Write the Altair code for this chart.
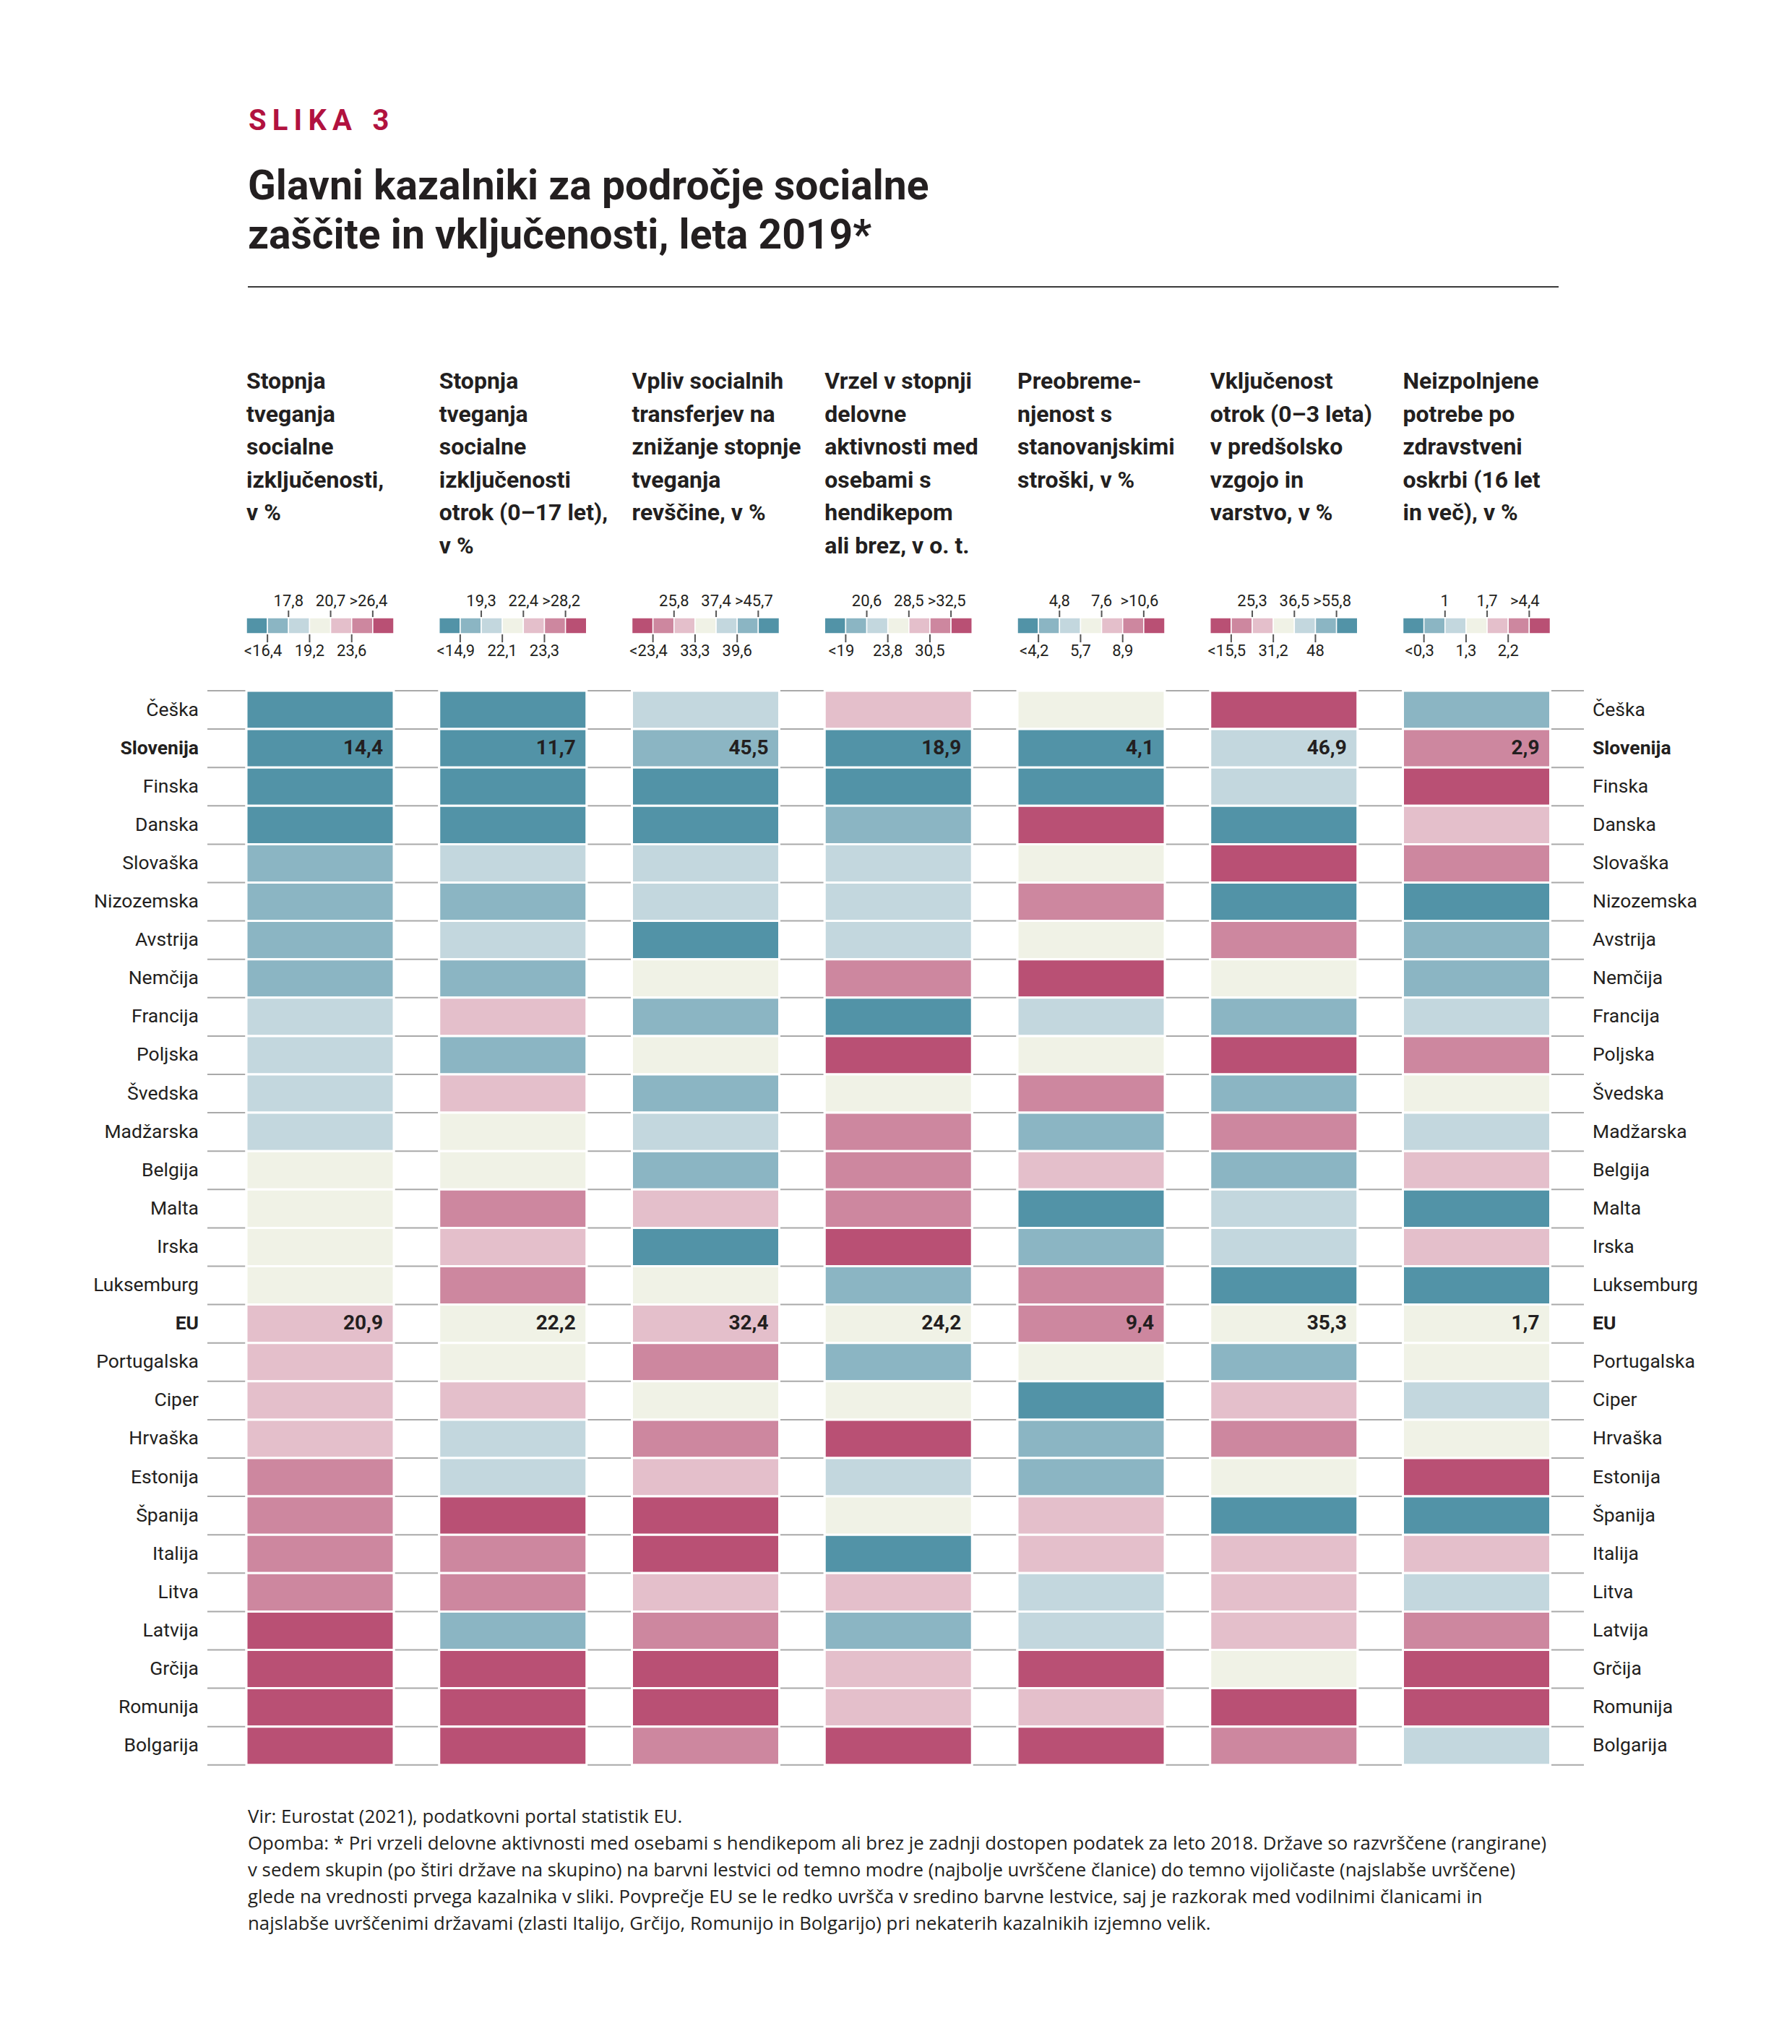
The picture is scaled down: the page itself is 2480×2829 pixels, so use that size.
import altair as alt
import pandas as pd

# ---------------- data ----------------
countries = ["Češka", "Slovenija", "Finska", "Danska", "Slovaška", "Nizozemska", "Avstrija",
             "Nemčija", "Francija", "Poljska", "Švedska", "Madžarska", "Belgija", "Malta",
             "Irska", "Luksemburg", "EU", "Portugalska", "Ciper", "Hrvaška", "Estonija",
             "Španija", "Italija", "Litva", "Latvija", "Grčija", "Romunija", "Bolgarija"]
bold_rows = ["Slovenija", "EU"]

headers = [
    "Stopnja\ntveganja\nsocialne\nizključenosti,\nv %",
    "Stopnja\ntveganja\nsocialne\nizključenosti\notrok (0–17 let),\nv %",
    "Vpliv socialnih\ntransferjev na\nznižanje stopnje\ntveganja\nrevščine, v %",
    "Vrzel v stopnji\ndelovne\naktivnosti med\nosebami s\nhendikepom\nali brez, v o. t.",
    "Preobreme-\nnjenost s\nstanovanjskimi\nstroški, v %",
    "Vključenost\notrok (0–3 leta)\nv predšolsko\nvzgojo in\nvarstvo, v %",
    "Neizpolnjene\npotrebe po\nzdravstveni\noskrbi (16 let\nin več), v %",
]

# colour class per country (1 = dark teal / best ... 7 = dark magenta / worst)
class_c1 = [1, 1, 1, 1, 2, 2, 2, 2, 3, 3, 3, 3, 4, 4, 4, 4, 5, 5, 5, 5, 6, 6, 6, 6, 7, 7, 7, 7]
class_c2 = [1, 1, 1, 1, 3, 2, 3, 2, 5, 2, 5, 4, 4, 6, 5, 6, 4, 4, 5, 3, 3, 7, 6, 6, 2, 7, 7, 7]
class_c3 = [3, 2, 1, 1, 3, 3, 1, 4, 2, 4, 2, 3, 2, 5, 1, 4, 5, 6, 4, 6, 5, 7, 7, 5, 6, 7, 7, 6]
class_c4 = [5, 1, 1, 2, 3, 3, 3, 6, 1, 7, 4, 6, 6, 6, 7, 2, 4, 2, 4, 7, 3, 4, 1, 5, 2, 5, 5, 7]
class_c5 = [4, 1, 1, 7, 4, 6, 4, 7, 3, 4, 6, 2, 5, 1, 2, 6, 6, 4, 1, 2, 2, 5, 5, 3, 3, 7, 5, 7]
class_c6 = [7, 3, 3, 1, 7, 1, 6, 4, 2, 7, 2, 6, 2, 3, 3, 1, 4, 2, 5, 6, 4, 1, 5, 5, 5, 4, 7, 6]
class_c7 = [2, 6, 7, 5, 6, 1, 2, 2, 3, 6, 4, 3, 5, 1, 5, 1, 4, 4, 3, 4, 7, 1, 5, 3, 6, 7, 7, 3]
classes = [class_c1, class_c2, class_c3, class_c4, class_c5, class_c6, class_c7]

slovenia_values = ["14,4", "11,7", "45,5", "18,9", "4,1", "46,9", "2,9"]
eu_values = ["20,9", "22,2", "32,4", "24,2", "9,4", "35,3", "1,7"]

legend_top = [["17,8", "20,7", ">26,4"], ["19,3", "22,4", ">28,2"], ["25,8", "37,4", ">45,7"],
              ["20,6", "28,5", ">32,5"], ["4,8", "7,6", ">10,6"], ["25,3", "36,5", ">55,8"],
              ["1", "1,7", ">4,4"]]
legend_bottom = [["<16,4", "19,2", "23,6"], ["<14,9", "22,1", "23,3"], ["<23,4", "33,3", "39,6"],
                 ["<19", "23,8", "30,5"], ["<4,2", "5,7", "8,9"], ["<15,5", "31,2", "48"],
                 ["<0,3", "1,3", "2,2"]]
legend_reversed = [False, False, True, False, False, True, False]

palette = ["#5293a7", "#8bb5c3", "#c3d7de", "#f0f2e6", "#e4bfcb", "#cd879f", "#b95074"]

fig_label = "S\u2009L\u2009I\u2009K\u2009A\u2002\u20093"
title_text = "Glavni kazalniki za področje socialne\nzaščite in vključenosti, leta 2019*"
note_text = ("Vir: Eurostat (2021), podatkovni portal statistik EU.\n"
             "Opomba: * Pri vrzeli delovne aktivnosti med osebami s hendikepom ali brez je zadnji dostopen podatek za leto 2018. Države so razvrščene (rangirane)\n"
             "v sedem skupin (po štiri države na skupino) na barvni lestvici od temno modre (najbolje uvrščene članice) do temno vijoličaste (najslabše uvrščene)\n"
             "glede na vrednosti prvega kazalnika v sliki. Povprečje EU se le redko uvršča v sredino barvne lestvice, saj je razkorak med vodilnimi članicami in\n"
             "najslabše uvrščenimi državami (zlasti Italijo, Grčijo, Romunijo in Bolgarijo) pri nekaterih kazalnikih izjemno velik.")

# ---------------- layout (scale units: 1 x-unit = one column, 1 y-unit = one row) ----------------
W, H = 2464, 2813
COL_PX, ROW_PX = 266.75, 53.1
X0_PX, Y0_PX = 341 - 8, 956 - 8
XA = -X0_PX / COL_PX
XB = XA + W / COL_PX
YA = -Y0_PX / ROW_PX
YB = YA + H / ROW_PX
BAR = 204 / COL_PX
SW = BAR / 7


def r(px):  # page pixel y -> row units
    return (px - 956) / ROW_PX


def u(px):  # page pixel x -> column units
    return (px - 341) / COL_PX


FONT = "Roboto, sans-serif"
INK = "#231f20"

xs = alt.Scale(domain=[XA, XB], nice=False, zero=False)
ys = alt.Scale(domain=[YA, YB], nice=False, zero=False, reverse=True)


def X(f):
    return alt.X(f"{f}:Q", scale=xs, axis=None)


def Y(f):
    return alt.Y(f"{f}:Q", scale=ys, axis=None)


cscale = alt.Scale(domain=[1, 2, 3, 4, 5, 6, 7], range=palette)

# cells
cells = []
for ci, cl in enumerate(classes):
    for ri, c in enumerate(cl):
        cells.append({"x": ci, "x2": ci + BAR, "y": ri, "y2": ri + 1, "cls": c,
                      "country": countries[ri]})
cells = pd.DataFrame(cells)

# row separator lines
lines = pd.DataFrame({"y": list(range(len(countries) + 1)), "x": u(287), "x2": u(2192)})

# legend swatches and ticks
sw, ticks, tlabels = [], [], []
for ci in range(7):
    for k in range(7):
        cls = 7 - k if legend_reversed[ci] else k + 1
        sw.append({"x": ci + k * SW, "x2": ci + (k + 1) * SW, "y": r(855), "y2": r(877), "cls": cls})
    for k in range(1, 7):
        pos = ci + k * SW
        if k % 2 == 0:
            ticks.append({"x": pos, "y": r(845), "y2": r(854)})
            tlabels.append({"x": pos, "y": r(839), "t": legend_top[ci][k // 2 - 1]})
        else:
            ticks.append({"x": pos, "y": r(878), "y2": r(889)})
            tlabels.append({"x": pos, "y": r(908), "t": legend_bottom[ci][(k - 1) // 2]})
sw, ticks, tlabels = pd.DataFrame(sw), pd.DataFrame(ticks), pd.DataFrame(tlabels)
tl_plain = tlabels[~tlabels["t"].str.match(r"^[<>]")]
tl_sign = tlabels[tlabels["t"].str.match(r"^[<>]")]

# row labels
lab = pd.DataFrame({"country": countries, "y": [i + 0.5 for i in range(len(countries))]})
lab["xl"] = u(275)
lab["xr"] = u(2204)
lab_norm = lab[~lab["country"].isin(bold_rows)]
lab_bold = lab[lab["country"].isin(bold_rows)]

# values
vals = []
for ci in range(7):
    vals.append({"x": ci + BAR, "y": countries.index("Slovenija") + 0.5, "t": slovenia_values[ci]})
    vals.append({"x": ci + BAR, "y": countries.index("EU") + 0.5, "t": eu_values[ci]})
vals = pd.DataFrame(vals)

hdr = pd.DataFrame({"x": list(range(7)), "y": r(538), "t": headers})

l_lines = alt.Chart(lines).mark_rule(color="#a9a9a9", strokeWidth=2).encode(
    x=X("x"), x2="x2", y=Y("y"))
l_cells = alt.Chart(cells).mark_rect(stroke="white", strokeWidth=3).encode(
    x=X("x"), x2="x2", y=Y("y"), y2="y2",
    color=alt.Color("cls:O", scale=cscale, legend=None))
l_sw = alt.Chart(sw).mark_rect(stroke="white", strokeWidth=1.5).encode(
    x=X("x"), x2="x2", y=Y("y"), y2="y2",
    color=alt.Color("cls:O", scale=cscale, legend=None))
l_ticks = alt.Chart(ticks).mark_rule(color="#555555", strokeWidth=2).encode(
    x=X("x"), y=Y("y"), y2="y2")
l_tlab1 = alt.Chart(tl_plain).mark_text(font=FONT, fontSize=22, color=INK, align="center",
                                         baseline="alphabetic").encode(
    x=X("x"), y=Y("y"), text="t:N")
l_tlab2 = alt.Chart(tl_sign).mark_text(font=FONT, fontSize=22, color=INK, align="center",
                                        baseline="alphabetic", dx=-6).encode(
    x=X("x"), y=Y("y"), text="t:N")


def row_labels(df, field, align, weight):
    return alt.Chart(df).mark_text(font=FONT, fontSize=26.5, color=INK, align=align,
                                   baseline="middle", fontWeight=weight).encode(
        x=X(field), y=Y("y"), text="country:N")


l_labels = [row_labels(lab_norm, "xl", "right", "normal"),
            row_labels(lab_bold, "xl", "right", "bold"),
            row_labels(lab_norm, "xr", "left", "normal"),
            row_labels(lab_bold, "xr", "left", "bold")]

l_vals = alt.Chart(vals).mark_text(font=FONT, fontSize=28, fontWeight="bold", color=INK,
                                    align="right", baseline="middle", dx=-15).encode(
    x=X("x"), y=Y("y"), text="t:N")
l_hdr = alt.Chart(hdr).mark_text(font=FONT, fontSize=32, fontWeight="bold", color=INK,
                                  align="left", baseline="alphabetic", lineBreak="\n",
                                  lineHeight=45.6).encode(
    x=X("x"), y=Y("y"), text="t:N")

misc = pd.DataFrame([{"x": u(344), "y": r(180), "t": fig_label}])
l_fig = alt.Chart(misc).mark_text(font=FONT, fontSize=40, fontWeight="bold", color="#b1123f",
                                   align="left", baseline="alphabetic").encode(
    x=X("x"), y=Y("y"), text="t:N")
ttl = pd.DataFrame([{"x": u(343), "y": r(276), "t": title_text}])
l_title = alt.Chart(ttl).mark_text(font=FONT, fontSize=57, fontWeight="bold", color=INK,
                                    align="left", baseline="alphabetic", lineBreak="\n",
                                    lineHeight=68).encode(
    x=X("x"), y=Y("y"), text="t:N")
rule_df = pd.DataFrame([{"x": u(343), "x2": u(2157), "y": r(397)}])
l_rule = alt.Chart(rule_df).mark_rule(color="#3a3a3a", strokeWidth=2).encode(
    x=X("x"), x2="x2", y=Y("y"))
note = pd.DataFrame([{"x": u(343), "y": r(2523), "t": note_text}])
l_note = alt.Chart(note).mark_text(font="Open Sans, sans-serif", fontSize=25.8, color=INK,
                                    align="left", baseline="alphabetic", lineBreak="\n",
                                    lineHeight=37).encode(
    x=X("x"), y=Y("y"), text="t:N")

chart = alt.layer(
    l_lines, l_cells, l_sw, l_ticks, l_tlab1, l_tlab2, *l_labels, l_vals, l_hdr,
    l_fig, l_title, l_rule, l_note
).properties(
    width=W, height=H, padding=0, autosize="none", background="white"
).configure_view(stroke=None)

chart.save("out.html", embed_options={"renderer": "svg", "actions": False})
